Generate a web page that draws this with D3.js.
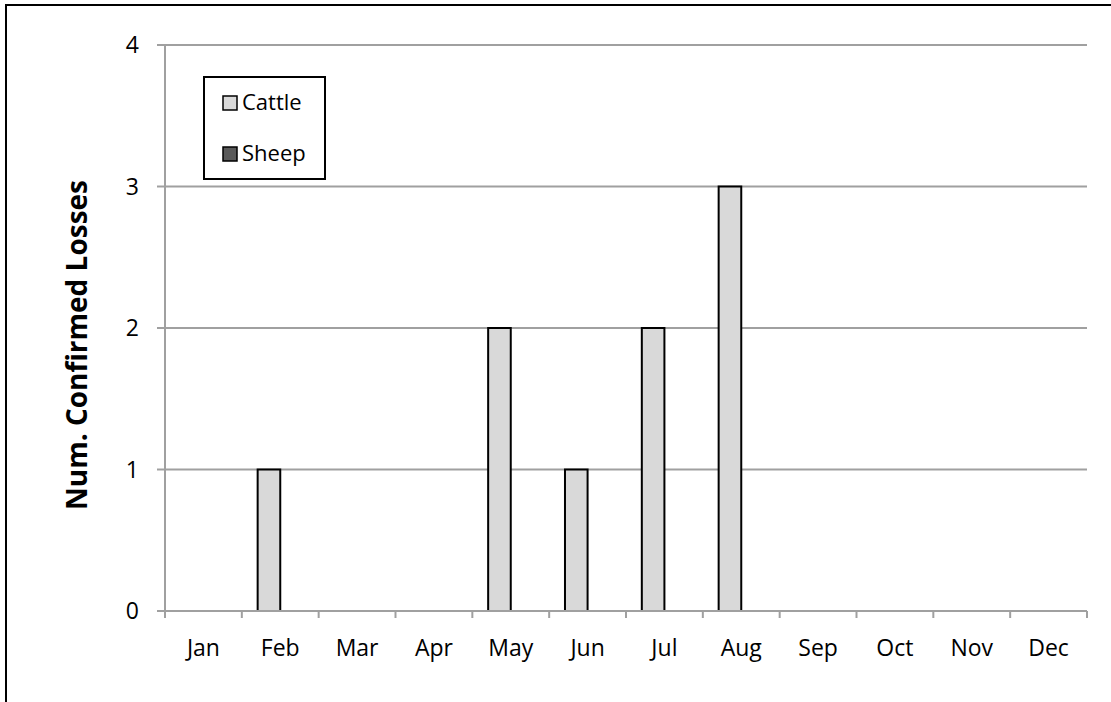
<!DOCTYPE html>
<html>
<head>
<meta charset="utf-8">
<script src="https://cdn.jsdelivr.net/npm/d3@7"></script>
<style>
  body { margin: 0; background: #fff; }
  text { font-family: "Open Sans", sans-serif; fill: #000; }
</style>
</head>
<body>
<script>
// data
const months = ["Jan","Feb","Mar","Apr","May","Jun","Jul","Aug","Sep","Oct","Nov","Dec"];
const seriesNames = ["Cattle","Sheep"];
const cattle = [0,1,0,0,2,1,2,3,0,0,0,0];
const sheep  = [0,0,0,0,0,0,0,0,0,0,0,0];
const yTicks = [0,1,2,3,4];
const colors = ["#d9d9d9","#595959"];

const width = 1111, height = 702;
const plotLeft = 165, plotRight = 1087, plotTop = 45, plotBottom = 611;

const svg = d3.select("body").append("svg")
  .attr("width", width).attr("height", height);

// outer frame (runs off the right and bottom edges)
svg.append("rect")
  .attr("x", 6).attr("y", 5)
  .attr("width", 1120).attr("height", 720)
  .attr("fill", "none").attr("stroke", "#000").attr("stroke-width", 2);

const x = d3.scaleBand().domain(months).range([plotLeft, plotRight]).padding(0);
const xs = d3.scaleBand().domain(seriesNames).range([0, x.bandwidth()])
  .paddingInner(0).paddingOuter(0.7);
const y = d3.scaleLinear().domain([0, 4]).range([plotBottom, plotTop]);

//gridlines
svg.selectAll(".grid").data(yTicks.filter(d => d > 0)).enter()
  .append("line")
  .attr("x1", plotLeft).attr("x2", plotRight)
  .attr("y1", d => y(d)).attr("y2", d => y(d))
  .attr("stroke", "#a0a0a0").attr("stroke-width", 2);

//y axis
svg.append("line")
  .attr("x1", plotLeft).attr("x2", plotLeft).attr("y1", plotTop).attr("y2", plotBottom)
  .attr("stroke", "#a0a0a0").attr("stroke-width", 2);
yTicks.forEach(v => {
  svg.append("line")
    .attr("x1", plotLeft - 8).attr("x2", plotLeft)
    .attr("y1", y(v)).attr("y2", y(v))
    .attr("stroke", "#a0a0a0").attr("stroke-width", 2);
  svg.append("text")
    .text(v)
    .attr("x", 139).attr("y", y(v) + 8)
    .attr("text-anchor", "end")
    .style("font-size", "23px");
});

//bars
const rows = months.map((m, i) => ({ month: m, values: [cattle[i], sheep[i]] }));
rows.forEach(row => {
  row.values.forEach((v, k) => {
    if (v <= 0) return;
    svg.append("rect")
      .attr("x", x(row.month) + xs(seriesNames[k]))
      .attr("y", y(v))
      .attr("width", xs.bandwidth())
      .attr("height", y(0) - y(v))
      .attr("fill", colors[k])
      .attr("stroke", "#000").attr("stroke-width", 2);
  });
});

//x axis
svg.append("line")
  .attr("x1", plotLeft).attr("x2", plotRight).attr("y1", plotBottom).attr("y2", plotBottom)
  .attr("stroke", "#a0a0a0").attr("stroke-width", 2);
months.concat(["end"]).forEach((m, i) => {
  const px = plotLeft + i * x.step();
  svg.append("line")
    .attr("x1", px).attr("x2", px).attr("y1", plotBottom).attr("y2", plotBottom + 7)
    .attr("stroke", "#a0a0a0").attr("stroke-width", 2);
});
svg.selectAll(".month").data(months).enter()
  .append("text")
  .text(d => d)
  .attr("x", d => x(d) + x.bandwidth() / 2)
  .attr("y", 656)
  .attr("text-anchor", "middle")
  .style("font-size", "23px");

//y axis title
svg.append("text")
  .text("Num. Confirmed Losses")
  .attr("transform", "translate(87,345) rotate(-90)")
  .attr("text-anchor", "middle")
  .style("font-size", "28px")
  .style("font-weight", "bold");

//legend
svg.append("rect")
  .attr("x", 204).attr("y", 77).attr("width", 121).attr("height", 102)
  .attr("fill", "#fff").attr("stroke", "#000").attr("stroke-width", 2);
seriesNames.forEach((name, k) => {
  const ly = 96 + k * 51;
  svg.append("rect")
    .attr("x", 223).attr("y", ly).attr("width", 14).attr("height", 14)
    .attr("fill", colors[k]).attr("stroke", "#000").attr("stroke-width", 1.5);
  svg.append("text")
    .text(name)
    .attr("x", 242).attr("y", ly + 14)
    .style("font-size", "22px");
});
</script>
</body>
</html>
